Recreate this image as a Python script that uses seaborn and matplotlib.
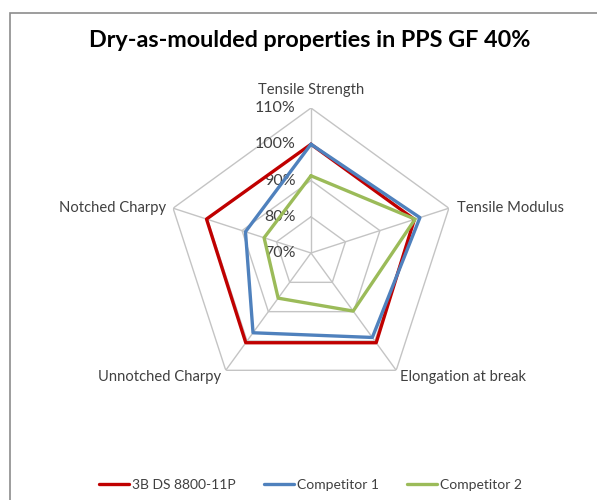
import matplotlib
matplotlib.use("Agg")
import matplotlib.pyplot as plt
import matplotlib.transforms as mtransforms
from matplotlib.patches import Rectangle
import numpy as np
import pandas as pd
import seaborn as sns

# chart data
properties = ["Tensile Strength", "Tensile Modulus", "Elongation at break",
              "Unnotched Charpy", "Notched Charpy"]
series_names = ["3B DS 8800-11P", "Competitor 1", "Competitor 2"]
vals_3b = [100, 100, 100.6, 100.6, 100.3]
vals_comp1 = [100, 101.6, 98.8, 97.2, 89]
vals_comp2 = [91.3, 100.2, 89.8, 85.4, 83.6]
ring_ticks = [70, 80, 90, 100, 110]
colors = ["#C00000", "#4F81BD", "#9BBB59"]

sns.set_theme(style="white")
plt.rcParams["font.family"] = ["Lato", "DejaVu Sans"]

n = len(properties)
theta = np.arange(n) * 2 * np.pi / n

rows = []
for name, vals in zip(series_names, [vals_3b, vals_comp1, vals_comp2]):
    for i in list(range(n)) + [0]:
        rows.append({"series": name, "theta": theta[i], "value": vals[i]})
df = pd.DataFrame(rows)

fig = plt.figure(figsize=(5.97, 5.0), dpi=100)
ax = fig.add_axes([0.278, 0.204, 0.4858, 0.58], projection="polar")
ax.set_theta_offset(np.pi / 2)
ax.set_theta_direction(-1)
ax.set_ylim(ring_ticks[0], ring_ticks[-1])
ax.grid(False)
ax.spines["polar"].set_visible(False)
ax.set_xticks([])
ax.set_yticks([])
ax.patch.set_alpha(0)

# pentagon grid
closed = np.append(theta, theta[0])
for r in ring_ticks[1:]:
    ax.plot(closed, [r] * (n + 1), color="#C4C4C4", lw=1, zorder=1)
for t in theta:
    ax.plot([t, t], [ring_ticks[0], ring_ticks[-1]], color="#C4C4C4", lw=1, zorder=1)

sns.lineplot(data=df, x="theta", y="value", hue="series", palette=colors,
             sort=False, estimator=None, units="series", lw=2.4, ax=ax, legend=False,
             zorder=3)
ax.set_xlabel("")
ax.set_ylabel("")

# radial labels along the top spoke (under the series lines, as in Excel)
off = mtransforms.offset_copy(ax.transData, fig=fig, x=-11, y=0, units="points")
for r in ring_ticks:
    ax.text(0, r, f"{r}%", transform=off, ha="right", va="center",
            fontsize=11.5, color="#404040", zorder=2)

# category labels
label_style = [
    dict(ha="center", va="bottom", dx=0, dy=8),
    dict(ha="left", va="center", dx=6, dy=0),
    dict(ha="left", va="center", dx=3, dy=-5),
    dict(ha="right", va="center", dx=-3, dy=-5),
    dict(ha="right", va="center", dx=-5, dy=0),
]
for t, lab, st in zip(theta, properties, label_style):
    tr = mtransforms.offset_copy(ax.transData, fig=fig, x=st["dx"], y=st["dy"], units="points")
    ax.text(t, ring_ticks[-1], lab, transform=tr, ha=st["ha"], va=st["va"],
            fontsize=10.6, color="#404040")

fig.suptitle("Dry-as-moulded properties in PPS GF 40%", x=0.518, y=0.94,
             fontsize=16.8, fontweight="bold", color="#000000")

handles = ax.get_lines()[-3:]
fig.legend(handles, series_names, loc="center", bbox_to_anchor=(0.52, 0.03), ncol=3,
           frameon=False, fontsize=10, handlelength=2.2, handletextpad=0.2,
           columnspacing=2.0, labelcolor="#404040")

fig.patches.append(Rectangle((10 / 597, -0.1), 1.2, 1 - 13 / 500 + 0.1,
                             transform=fig.transFigure, fill=False,
                             edgecolor="#8C8C8C", lw=1.2))

fig.savefig("out.png", dpi=100)
